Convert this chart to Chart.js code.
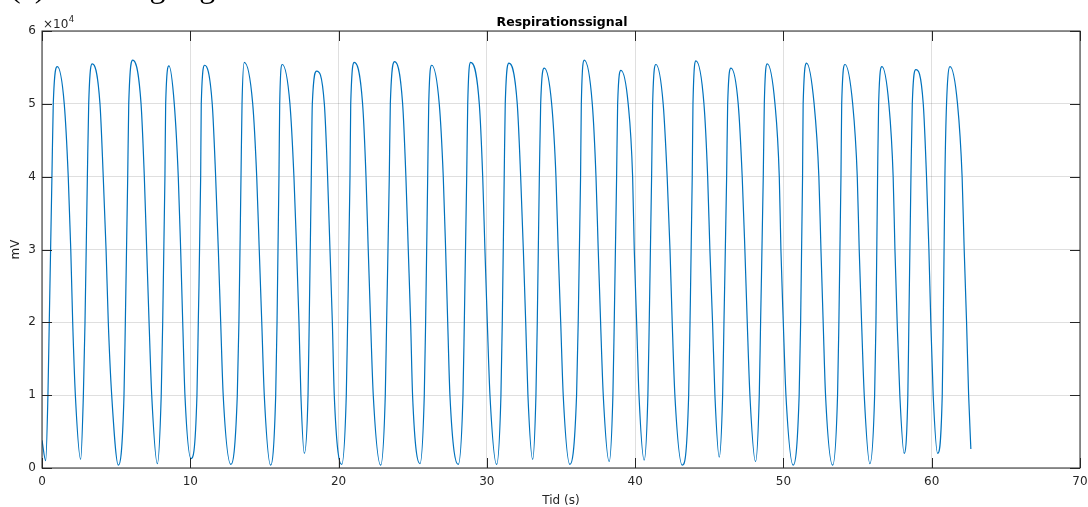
<!DOCTYPE html>
<html>
<head>
<meta charset="utf-8">
<script src="https://cdn.jsdelivr.net/npm/chart.js@4.4.1/dist/chart.umd.min.js"></script>
<style>
  html, body { margin: 0; padding: 0; background: #fff; overflow: hidden; }
  #wrap { position: relative; width: 1088px; height: 507px; }
  canvas { display: block; }
</style>
</head>
<body>
<div id="wrap"><canvas id="c" width="1088" height="507"></canvas></div>
<script>
// ---- data ----
const tid = [
  0.00,
  0.25, 0.40, 0.49, 0.67, 0.76, 1.03, 1.50, 1.77, 1.94, 2.07, 2.25,
  2.61, 2.79, 2.90, 3.06, 3.15, 3.39, 3.91, 4.13, 4.32, 4.47, 4.70,
  5.15, 5.53, 5.62, 5.78, 5.85, 6.12, 6.68, 6.90, 7.06, 7.22, 7.40,
  7.78, 8.04, 8.14, 8.29, 8.34, 8.56, 8.92, 9.19, 9.35, 9.49, 9.64,
  10.05, 10.45, 10.54, 10.70, 10.74, 10.97, 11.48, 11.71, 11.89, 12.05, 12.22,
  12.74, 13.17, 13.28, 13.42, 13.49, 13.64, 14.21, 14.48, 14.65, 14.82, 14.99,
  15.42, 15.76, 15.85, 15.98, 16.03, 16.20, 16.72, 16.99, 17.17, 17.33, 17.46,
  17.69, 17.94, 18.02, 18.16, 18.23, 18.52, 19.04, 19.26, 19.42, 19.58, 19.71,
  20.21, 20.52, 20.61, 20.77, 20.82, 21.06, 21.62, 21.85, 22.00, 22.16, 22.34,
  22.84, 23.15, 23.24, 23.42, 23.49, 23.78, 24.32, 24.54, 24.70, 24.86, 24.99,
  25.49, 25.78, 25.87, 26.01, 26.08, 26.28, 26.79, 27.06, 27.22, 27.36, 27.51,
  28.07, 28.39, 28.48, 28.64, 28.71, 28.91, 29.49, 29.72, 29.87, 30.03, 30.21,
  30.66, 30.95, 31.04, 31.17, 31.24, 31.49, 32.05, 32.28, 32.46, 32.62, 32.77,
  33.09, 33.31, 33.40, 33.54, 33.63, 33.87, 34.37, 34.66, 34.81, 34.98, 35.15,
  35.60, 36.05, 36.16, 36.32, 36.37, 36.57, 37.11, 37.36, 37.51, 37.67, 37.85,
  38.25, 38.50, 38.59, 38.75, 38.82, 39.04, 39.53, 39.83, 39.94, 40.10, 40.26,
  40.61, 40.86, 40.95, 41.11, 41.18, 41.40, 41.89, 42.16, 42.35, 42.50, 42.68,
  43.18, 43.61, 43.70, 43.85, 43.90, 44.10, 44.64, 44.89, 45.04, 45.22, 45.38,
  45.67, 45.90, 45.99, 46.17, 46.24, 46.46, 46.95, 47.22, 47.40, 47.56, 47.74,
  48.12, 48.37, 48.46, 48.64, 48.71, 48.91, 49.43, 49.72, 49.83, 49.99, 50.17,
  50.66, 51.06, 51.16, 51.29, 51.33, 51.56, 52.07, 52.39, 52.53, 52.68, 52.84,
  53.32, 53.65, 53.74, 53.88, 53.93, 54.15, 54.67, 54.98, 55.11, 55.27, 55.45,
  55.83, 56.15, 56.24, 56.35, 56.42, 56.64, 57.11, 57.40, 57.52, 57.67, 57.85,
  58.14, 58.39, 58.46, 58.60, 58.69, 58.93, 59.43, 59.65, 59.81, 59.94, 60.10,
  60.40, 60.71, 60.78, 60.89, 61.00, 61.23, 61.74, 62.05, 62.19, 62.35, 62.49,
  62.64
];
const signal = [
  3800,
  1000, 10000, 20000, 40000, 50000, 55100, 50000, 40000, 30000, 20000, 10000,
  1200, 10000, 20000, 40000, 50000, 55500, 50000, 40000, 30000, 20000, 10000,
  400, 10000, 20000, 40000, 50000, 56000, 50000, 40000, 30000, 20000, 10000,
  600, 10000, 20000, 40000, 50000, 55200, 50000, 40000, 30000, 20000, 10000,
  1300, 10000, 20000, 40000, 50000, 55300, 50000, 40000, 30000, 20000, 10000,
  500, 10000, 20000, 40000, 50000, 55700, 50000, 40000, 30000, 20000, 10000,
  400, 10000, 20000, 40000, 50000, 55400, 50000, 40000, 30000, 20000, 10000,
  2000, 10000, 20000, 40000, 50000, 54500, 50000, 40000, 30000, 20000, 10000,
  500, 10000, 20000, 40000, 50000, 55700, 50000, 40000, 30000, 20000, 10000,
  400, 10000, 20000, 40000, 50000, 55800, 50000, 40000, 30000, 20000, 10000,
  600, 10000, 20000, 40000, 50000, 55300, 50000, 40000, 30000, 20000, 10000,
  500, 10000, 20000, 40000, 50000, 55700, 50000, 40000, 30000, 20000, 10000,
  500, 10000, 20000, 40000, 50000, 55600, 50000, 40000, 30000, 20000, 10000,
  1200, 10000, 20000, 40000, 50000, 54900, 50000, 40000, 30000, 20000, 10000,
  500, 10000, 20000, 40000, 50000, 56000, 50000, 40000, 30000, 20000, 10000,
  900, 10000, 20000, 40000, 50000, 54600, 50000, 40000, 30000, 20000, 10000,
  1100, 10000, 20000, 40000, 50000, 55400, 50000, 40000, 30000, 20000, 10000,
  400, 10000, 20000, 40000, 50000, 55900, 50000, 40000, 30000, 20000, 10000,
  1500, 10000, 20000, 40000, 50000, 54900, 50000, 40000, 30000, 20000, 10000,
  900, 10000, 20000, 40000, 50000, 55500, 50000, 40000, 30000, 20000, 10000,
  400, 10000, 20000, 40000, 50000, 55600, 50000, 40000, 30000, 20000, 10000,
  400, 10000, 20000, 40000, 50000, 55400, 50000, 40000, 30000, 20000, 10000,
  600, 10000, 20000, 40000, 50000, 55100, 50000, 40000, 30000, 20000, 10000,
  2000, 10000, 20000, 40000, 50000, 54700, 50000, 40000, 30000, 20000, 10000,
  2000, 10000, 20000, 40000, 50000, 55100, 50000, 40000, 30000, 20000, 10000,
  2600
];
const xTicks = [0, 10, 20, 30, 40, 50, 60, 70];
const xTickLabels = ['0', '10', '20', '30', '40', '50', '60', '70'];
const yTicks = [0, 10000, 20000, 30000, 40000, 50000, 60000];
const yTickLabels = ['0', '1', '2', '3', '4', '5', '6'];
const titleText = 'Respirationssignal';
const xLabel = 'Tid (s)';
const yLabel = 'mV';
const exponentText = '4';
const captionText = '(a) Andningssignal';

// ---- styling ----
const AX = '#262626';
const FONT = "'DejaVu Sans', 'Liberation Sans', sans-serif";
const points = tid.map((t, i) => ({ x: t, y: signal[i] }));

const matlabAxes = {
  id: 'matlabAxes',
  afterDraw(chart) {
    const { ctx, chartArea: a, scales: { x, y } } = chart;
    ctx.save();
    ctx.strokeStyle = AX;
    ctx.lineWidth = 1;
    ctx.beginPath();
    xTicks.forEach(v => {
      const px = Math.round(x.getPixelForValue(v)) + 0.5;
      ctx.moveTo(px, a.bottom); ctx.lineTo(px, a.bottom - 10);
      ctx.moveTo(px, a.top); ctx.lineTo(px, a.top + 10);
    });
    yTicks.forEach(v => {
      const py = Math.round(y.getPixelForValue(v)) + 0.5;
      ctx.moveTo(a.left, py); ctx.lineTo(a.left + 10, py);
      ctx.moveTo(a.right, py); ctx.lineTo(a.right - 10, py);
    });
    ctx.stroke();
    ctx.strokeRect(a.left, a.top, a.right - a.left, a.bottom - a.top);

    // exponent label
    ctx.fillStyle = AX;
    ctx.textAlign = 'left';
    ctx.textBaseline = 'alphabetic';
    ctx.font = '12px ' + FONT;
    ctx.fillText('\u00d710', a.left + 1, a.top - 3);
    const w = ctx.measureText('\u00d710').width;
    ctx.font = '8.5px ' + FONT;
    ctx.fillText(exponentText, a.left + 1 + w + 0.5, a.top - 9);

    // title
    ctx.fillStyle = '#000';
    ctx.textAlign = 'center';
    ctx.font = 'bold 12.5px ' + FONT;
    ctx.fillText(titleText, (a.left + a.right) / 2 + 1, a.top - 5);

    // cropped caption at the very top
    ctx.textAlign = 'left';
    ctx.font = '32px "Liberation Serif", "DejaVu Serif", serif';
    ctx.fillText(captionText, 10, -3);
    ctx.restore();
  }
};

new Chart(document.getElementById('c'), {
  type: 'line',
  data: {
    datasets: [{
      data: points,
      borderColor: '#0072BD',
      borderWidth: 1.2,
      pointRadius: 0,
      fill: false,
      cubicInterpolationMode: 'monotone'
    }]
  },
  options: {
    responsive: false,
    animation: false,
    devicePixelRatio: 1,
    layout: { padding: { left: 0, right: 8, top: 31, bottom: 0 } },
    plugins: { legend: { display: false }, tooltip: { enabled: false }, title: { display: false } },
    scales: {
      x: {
        type: 'linear',
        min: 0, max: 70,
        afterBuildTicks(s) { s.ticks = xTicks.map(v => ({ value: v })); },
        afterFit(s) { s.height = 39; s.paddingLeft = 0; s.paddingRight = 0; },
        ticks: {
          autoSkip: false, maxRotation: 0, padding: 7,
          color: AX, font: { family: FONT, size: 12 },
          callback: (v, i) => xTickLabels[i]
        },
        grid: { color: 'rgba(38,38,38,0.15)', lineWidth: 1, drawTicks: false },
        border: { display: false },
        title: { display: true, text: xLabel, color: AX, font: { family: FONT, size: 12, lineHeight: 1 }, padding: 0 }
      },
      y: {
        type: 'linear',
        min: 0, max: 60000,
        afterBuildTicks(s) { s.ticks = yTicks.map(v => ({ value: v })); },
        afterFit(s) { s.width = 42; s.paddingTop = 0; s.paddingBottom = 0; },
        ticks: {
          autoSkip: false, padding: 6,
          color: AX, font: { family: FONT, size: 12 },
          callback: (v, i) => yTickLabels[i]
        },
        grid: { color: 'rgba(38,38,38,0.15)', lineWidth: 1, drawTicks: false },
        border: { display: false },
        title: { display: true, text: yLabel, color: AX, font: { family: FONT, size: 12, lineHeight: 1 }, padding: { top: 9.5, bottom: 0 } }
      }
    }
  },
  plugins: [matlabAxes]
});
</script>
</body>
</html>
